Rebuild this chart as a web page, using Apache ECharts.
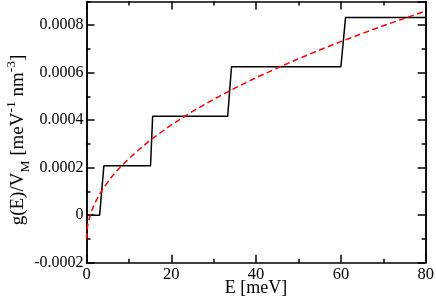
<!DOCTYPE html>
<html>
<head>
<meta charset="utf-8">
<script src="https://cdn.jsdelivr.net/npm/echarts@6/dist/echarts.min.js"></script>
<style>
html,body{margin:0;padding:0;background:#fff;}
#c{width:436px;height:298px;}
</style>
</head>
<body>
<div id="c"></div>
<script>
// Step function (black)
var stepE = [0, 3.1, 4.1, 15.1, 15.6, 33.3, 34.2, 60.0, 61.1, 80];
var stepG = [0, 0, 0.000208, 0.000208, 0.000417, 0.000417, 0.000625, 0.000625, 0.000833, 0.000833];
// Continuum DOS (red dashed)
var curveE = [0, 0.25, 0.5, 1, 1.5, 2, 3, 4, 6, 8, 10, 15, 20, 25, 30, 35, 40, 45, 50, 55, 60, 65, 70, 75, 80];
var curveG = [-0.0001, -0.000046, -0.000024, 0.000007, 0.000031, 0.000052, 0.000086, 0.000115, 0.000163, 0.000203, 0.000239, 0.000316, 0.00038, 0.000437, 0.000488, 0.000535, 0.000579, 0.00062, 0.000659, 0.000696, 0.000731, 0.000765, 0.000798, 0.000829, 0.00086];
// Axis ticks
var xTicks = [0, 20, 40, 60, 80];
var yTickLabels = ['-0.0002', '0', '0.0002', '0.0004', '0.0006', '0.0008'];

function pairs(a, b) { return a.map(function (v, i) { return [v, b[i]]; }); }

var FONT = 'Liberation Serif';
var chart = echarts.init(document.getElementById('c'), null, {renderer: 'canvas'});

var LINE = {show: true, onZero: false, lineStyle: {color: '#000', width: 1.5}};
function yAxisCommon(extra) {
  var base = {
    type: 'value', min: -0.0002, max: 0.0009,
    axisLine: LINE,
    splitLine: {show: false},
    axisLabel: {show: false},
    axisTick: {show: true, inside: true, length: 8, lineStyle: {color: '#000', width: 1.5}}
  };
  for (var k in extra) base[k] = extra[k];
  return base;
}

var labelMap = {};
yTickLabels.forEach(function (s) { labelMap[Number(s).toFixed(4)] = s; });

chart.setOption({
  animation: false,
  backgroundColor: '#fff',
  grid: {left: 86.5, right: 10.3, top: 1.5, bottom: 35.3, containLabel: false, outerBoundsMode: 'none'},
  graphic: [{
    type: 'text', x: 18.5, y: 140, rotation: Math.PI / 2,
    style: {
      text: '{n|g(E)/V}{sub|M}{n| [meV}{sup|-1}{n| nm}{sup|-3}{n|]}',
      align: 'center', verticalAlign: 'middle', fill: '#000',
      font: '19px "Liberation Serif"',
      rich: {
        n: {fontFamily: FONT, fontSize: 19, fill: '#000', lineHeight: 28},
        sub: {fontFamily: FONT, fontSize: 13.5, fill: '#000', lineHeight: 28, verticalAlign: 'bottom'},
        sup: {fontFamily: FONT, fontSize: 13.5, fill: '#000', lineHeight: 28, verticalAlign: 'top'}
      }
    }
  }],
  xAxis: [{
    type: 'value', min: 0, max: 80, interval: 20, position: 'bottom',
    name: 'E [meV]', nameLocation: 'middle', nameGap: 17, nameMoveOverlap: false,
    nameTextStyle: {fontFamily: FONT, fontSize: 18, color: '#000', verticalAlign: 'top'},
    axisLine: LINE,
    splitLine: {show: false},
    axisTick: {show: true, inside: true, length: 8, lineStyle: {color: '#000', width: 1.5}},
    minorTick: {show: true, splitNumber: 2, length: 4, lineStyle: {color: '#000', width: 1.5}},
    axisLabel: {fontFamily: FONT, fontSize: 16.5, color: '#000', margin: 3,
      formatter: function (v) { return xTicks.indexOf(v) >= 0 ? String(v) : ''; }}
  }, {
    type: 'value', min: 0, max: 80, interval: 20, position: 'top',
    axisLine: LINE,
    splitLine: {show: false},
    axisTick: {show: true, inside: true, length: 8, lineStyle: {color: '#000', width: 1.5}},
    minorTick: {show: true, splitNumber: 2, length: 4, lineStyle: {color: '#000', width: 1.5}},
    axisLabel: {show: false}
  }],
  yAxis: [
    yAxisCommon({
      position: 'left', interval: 0.0002,
      axisLabel: {show: true, fontFamily: FONT, fontSize: 16, color: '#000', margin: 3, showMaxLabel: false,
        formatter: function (v) { var s = labelMap[Number(v).toFixed(4)]; return s === undefined ? '' : s; }}
    }),
    yAxisCommon({position: 'right', interval: 0.0002}),
    yAxisCommon({position: 'left', interval: 0.0001, axisTick: {show: true, inside: true, length: 4, lineStyle: {color: '#000', width: 1.5}}}),
    yAxisCommon({position: 'right', interval: 0.0001, axisTick: {show: true, inside: true, length: 4, lineStyle: {color: '#000', width: 1.5}}})
  ],
  series: [{
    type: 'line', xAxisIndex: 0, yAxisIndex: 0,
    data: pairs(stepE, stepG), showSymbol: false, symbol: 'none',
    lineStyle: {color: '#000', width: 1.5}, z: 3
  }, {
    type: 'line', xAxisIndex: 0, yAxisIndex: 0,
    data: pairs(curveE, curveG), showSymbol: false, symbol: 'none',
    lineStyle: {color: '#ff0000', width: 1.5, type: [6, 3.5]}, z: 4
  }]
});
</script>
</body>
</html>
